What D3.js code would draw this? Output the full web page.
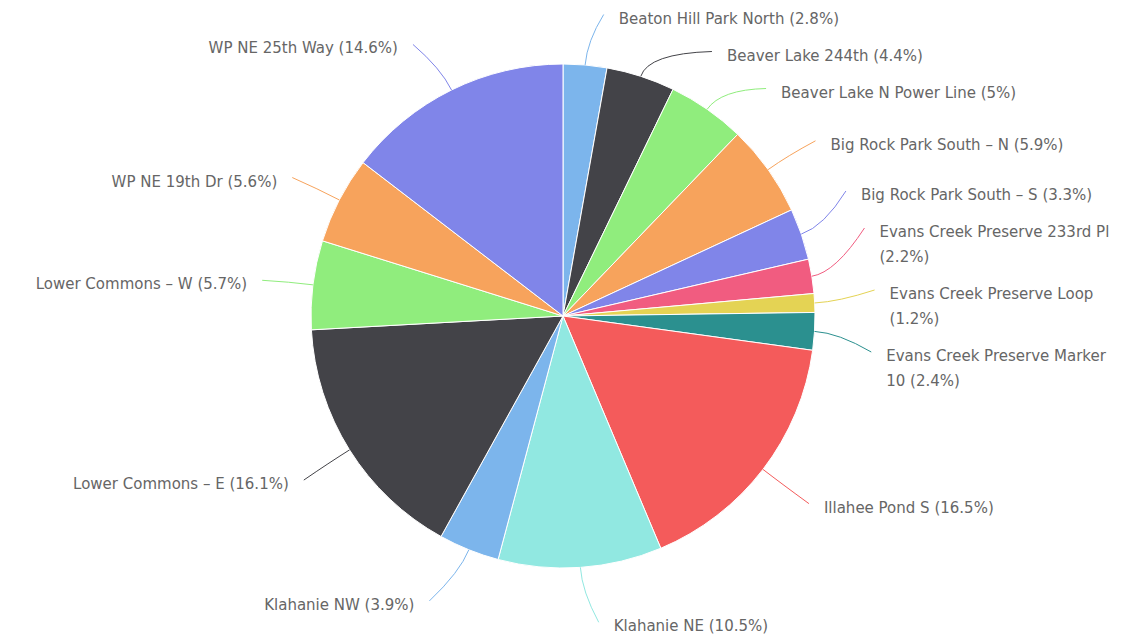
<!DOCTYPE html>
<html>
<head>
<meta charset="utf-8">
<script src="https://cdn.jsdelivr.net/npm/d3@7"></script>
<style>
  body { margin: 0; background: #fff; }
  svg { display: block; }
</style>
</head>
<body>
<script>
// Trail sites and their share of the total (%)
var sites = [
    "Beaton Hill Park North", "Beaver Lake 244th", "Beaver Lake N Power Line",
    "Big Rock Park South - N", "Big Rock Park South - S", "Evans Creek Preserve 233rd Pl",
    "Evans Creek Preserve Loop", "Evans Creek Preserve Marker 10", "Illahee Pond S",
    "Klahanie NE", "Klahanie NW", "Lower Commons - E", "Lower Commons - W",
    "WP NE 19th Dr", "WP NE 25th Way"
];
var shares = [2.8, 4.4, 5, 5.9, 3.3, 2.2, 1.2, 2.4, 16.5, 10.5, 3.9, 16.1, 5.7, 5.6, 14.6];
var palette = ["#7cb5ec", "#434348", "#90ed7d", "#f7a35c", "#8085e9",
               "#f15c80", "#e4d354", "#2b908f", "#f45b5b", "#91e8e1"];

var svgWidth = 1148, svgHeight = 636;
var cx = 563, cy = 316, radius = 252;
var labelCy = cy + 6, labelRy = 305;
var lineGap = 25, oneLine = 37, gap = 15;
var fontSize = "15px";

var svg = d3.select("body").append("svg")
    .attr("width", svgWidth)
    .attr("height", svgHeight);

var pieData = d3.pie().sort(null).value(d => d)(shares);
var arc = d3.arc().innerRadius(0).outerRadius(radius);

var pieGroup = svg.append("g").attr("transform", `translate(${cx}, ${cy})`);

pieGroup.selectAll("path")
    .data(pieData)
    .enter()
    .append("path")
    .attr("d", arc)
    .attr("fill", (d, i) => palette[i % palette.length])
    .attr("stroke", "#fff")
    .attr("stroke-width", 1)
    .attr("stroke-linejoin", "round");

// text measuring helper
var measure = svg.append("text")
    .attr("font-family", "DejaVu Sans, sans-serif")
    .attr("font-size", fontSize)
    .attr("visibility", "hidden");
function textWidth(s) {
    measure.text(s);
    return measure.node().getComputedTextLength();
}

// horizontal distance of a label from the centre line, given its y
function xOffset(y, right) {
    var rx = right ? 327 : 318, ry = right ? 308 : 320;
    var k = (y - labelCy) / ry;
    return rx * Math.sqrt(Math.max(0, 1 - k * k));
}

// build labels
var labels = pieData.map(function(d, i) {
    var a = (d.startAngle + d.endAngle) / 2;
    var right = a < Math.PI;
    var natural = labelCy - labelRy * Math.cos(a);
    var text = sites[i].replace(" - ", " \u2013 ") + " (" + shares[i] + "%)";
    // wrap if it runs past the right side
    var room = right ? (svgWidth - 30) - (cx + xOffset(natural, right)) : 1e9;
    var words = text.split(" "), lines = [], cur = "";
    words.forEach(function(w) {
        var test = cur ? cur + " " + w : w;
        if (cur && textWidth(test) > room) {
            lines.push(cur);
            cur = w;
        } else {
            cur = test;
        }
    });
    lines.push(cur);
    var extra = (lines.length - 1) * lineGap;
    return {i: i, angle: a, right: right, lines: lines,
            target: natural + extra / 2,   // first line sits on the natural spot
            size: oneLine + extra};
});

// spread labels on each side so they do not overlap
function distribute(items, minY, maxY) {
    items.sort((p, q) => p.target - q.target);
    var boxes = items.map(it => ({targets: [it.target], size: it.size, items: [it]}));
    var overlapping = true;
    while (overlapping) {
        boxes.forEach(function(b) {
            var t = (d3.min(b.targets) + d3.max(b.targets)) / 2;
            b.pos = Math.max(minY, Math.min(maxY - b.size, t - b.size / 2));
        });
        overlapping = false;
        for (var j = boxes.length - 1; j > 0; j--) {
            var prev = boxes[j - 1], b = boxes[j];
            if (prev.pos + prev.size > b.pos + 0.01) {
                prev.size += b.size;
                prev.targets = prev.targets.concat(b.targets);
                prev.items = prev.items.concat(b.items);
                boxes.splice(j, 1);
                overlapping = true;
            }
        }
    }
    boxes.forEach(function(b) {
        var p = b.pos;
        b.items.forEach(function(it) {
            it.y = p + it.size / 2;
            p += it.size;
        });
    });
}
distribute(labels.filter(l => l.right), 0, 680);
distribute(labels.filter(l => !l.right), 0, 680);

labels.forEach(function(l) {
    var off = xOffset(l.y, l.right);
    l.x = l.right ? cx + off : cx - off;
    l.firstY = l.y - (l.lines.length - 1) * lineGap / 2;
});

// connectors
var connectors = svg.append("g");
connectors.selectAll("path")
    .data(labels)
    .enter()
    .append("path")
    .attr("fill", "none")
    .attr("stroke", d => palette[d.i % palette.length])
    .attr("stroke-width", 1)
    .attr("d", function(d) {
        var sx = cx + radius * Math.sin(d.angle), sy = cy - radius * Math.cos(d.angle);
        var mx = cx + (radius + 24) * Math.sin(d.angle), my = cy - (radius + 24) * Math.cos(d.angle);
        var ex = d.right ? d.x - gap : d.x + gap, ey = d.firstY - 4;
        return `M${sx},${sy} Q${mx},${my} ${ex},${ey}`;
    });

// label texts
var textGroup = svg.append("g")
    .attr("font-family", "DejaVu Sans, sans-serif")
    .attr("font-size", fontSize)
    .attr("fill", "#666666");

labels.forEach(function(l) {
    var t = textGroup.append("text")
        .attr("text-anchor", l.right ? "start" : "end");
    l.lines.forEach(function(line, k) {
        t.append("tspan")
            .attr("x", l.x)
            .attr("y", l.firstY + k * lineGap + 5)
            .text(line);
    });
});
</script>
</body>
</html>
